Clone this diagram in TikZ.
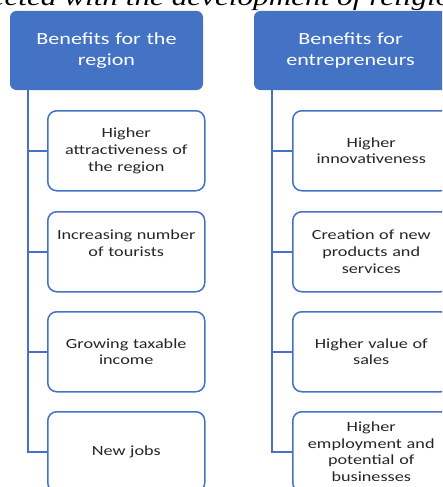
\documentclass[tikz,border=0pt]{standalone}
\usepackage{fontspec}
\setmainfont{Carlito}[FakeStretch=1.3]
\newfontfamily\capfont{Liberation Serif}[FakeStretch=1.3]
\definecolor{blu}{HTML}{4472C4}
\definecolor{txt}{HTML}{262626}
\begin{document}
\begin{tikzpicture}[x=1pt,y=-1pt,
 head/.style={draw=blu, fill=blu, rounded corners=6pt, line width=1pt,
   minimum width=192pt, minimum height=78pt, text=white,
   font=\fontsize{17}{21}\selectfont, align=center, anchor=north west,
   inner sep=0pt, text width=188pt},
 item/.style={draw=blu, fill=white, rounded corners=9pt, line width=1.5pt,
   minimum width=157pt, minimum height=80pt, text=txt,
   font=\fontsize{14}{16.8}\selectfont, align=center, anchor=north west,
   inner sep=0pt, text width=154pt},
 link/.style={draw=blu, line width=1.5pt}]
\useasboundingbox (0,0) rectangle (442,487);
\clip (0,0) rectangle (442,487);
\node[font=\capfont\itshape\fontsize{24}{24}\selectfont, anchor=base, inner sep=0pt] (cap) at (221,6) {ected with the development of religio};
% left column
\node[head] (h1) at (10,11) {Benefits for the\\region};
\node[item] (a1) at (47,110) {Higher\\attractiveness of\\the region};
\node[item] (a2) at (47,211) {Increasing number\\of tourists\\\mbox{}};
\node[item] (a3) at (47,311) {Growing taxable\\income};
\node[item] (a4) at (47,411) {New jobs};
\coordinate (ta) at ([xshift=18pt]h1.south west);
\draw[link] (ta) |- (a4.west);
\foreach \n in {a1,a2,a3} \draw[link] (\n.west -| ta) -- (\n.west);
% right column
\node[head] (h2) at (254,11) {Benefits for\\entrepreneurs};
\node[item] (b1) at (292,110) {Higher\\innovativeness};
\node[item] (b2) at (292,211) {Creation of new\\products and\\services};
\node[item] (b3) at (292,311) {Higher value of\\sales};
\node[item] (b4) at (292,411) {Higher\\employment and\\potential of\\businesses};
\coordinate (tb) at ([xshift=18pt]h2.south west);
\draw[link] (tb) |- (b4.west);
\foreach \n in {b1,b2,b3} \draw[link] (\n.west -| tb) -- (\n.west);
\end{tikzpicture}
\end{document}
